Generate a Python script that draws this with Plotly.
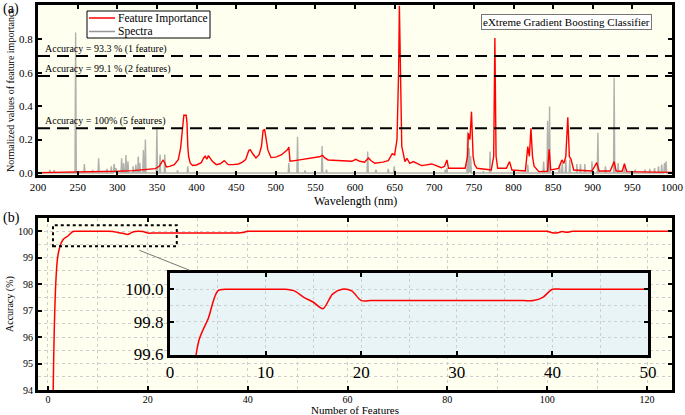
import plotly.graph_objects as go

FONT = "Liberation Serif, Times New Roman, serif"
W, H = 685, 415

# ---- panel (a): XGBoost feature importance (red curve) ----
fi_wavelength = [200, 220, 250, 280, 300, 320, 340, 348, 353, 356, 358, 360, 362, 366, 372, 377,
                 380, 382, 384, 387, 388, 389, 390, 392, 395, 400, 406, 409, 411, 413, 415, 417,
                 420, 425, 430, 435, 440, 446, 453, 458, 462, 466, 468, 471, 475, 479, 482, 484,
                 486, 488, 490, 494, 500, 507, 512, 515, 516.5, 518, 524, 540, 555, 559, 562, 566,
                 583, 596, 601, 606, 612, 617, 620, 625, 635, 642, 647, 650, 653, 655, 656, 657.5,
                 659, 663, 665.5, 669, 673.5, 684, 697, 709, 713, 716, 718, 739, 742, 743, 745,
                 747, 749, 751, 754, 772, 775, 776.5, 778, 780, 791, 795, 798, 815, 818, 820, 822,
                 824, 826, 832, 843, 845, 847, 857, 861, 863.5, 866, 868.5, 870.5, 872.5, 876,
                 899, 905, 908, 922, 927, 929.5, 937, 940, 943, 970, 1000]
fi_value = [0.002, 0.003, 0.005, 0.008, 0.010, 0.014, 0.020, 0.026, 0.040, 0.060, 0.078, 0.060,
            0.036, 0.040, 0.050, 0.080, 0.150, 0.250, 0.345, 0.345, 0.300, 0.160, 0.100, 0.060,
            0.045, 0.048, 0.062, 0.090, 0.100, 0.082, 0.104, 0.090, 0.070, 0.050, 0.055, 0.074,
            0.050, 0.050, 0.054, 0.065, 0.080, 0.135, 0.138, 0.115, 0.090, 0.110, 0.160, 0.255,
            0.260, 0.200, 0.138, 0.092, 0.095, 0.108, 0.130, 0.140, 0.155, 0.070, 0.074, 0.087,
            0.097, 0.105, 0.090, 0.078, 0.074, 0.070, 0.082, 0.070, 0.064, 0.090, 0.075, 0.058,
            0.065, 0.074, 0.115, 0.108, 0.200, 0.600, 1.000, 0.600, 0.160, 0.068, 0.088, 0.058,
            0.068, 0.044, 0.054, 0.032, 0.040, 0.078, 0.028, 0.028, 0.100, 0.238, 0.200, 0.367,
            0.100, 0.050, 0.028, 0.018, 0.100, 0.807, 0.100, 0.028, 0.028, 0.068, 0.018, 0.012,
            0.158, 0.100, 0.268, 0.098, 0.040, 0.008, 0.010, 0.142, 0.018, 0.028, 0.078, 0.058,
            0.098, 0.333, 0.098, 0.083, 0.018, 0.012, 0.062, 0.012, 0.012, 0.068, 0.012, 0.010,
            0.054, 0.008, 0.005, 0.004]

# ---- panel (a): emission spectrum lines (grey sticks) ----
spec_wavelength = [215, 220.5, 247.5, 258.5, 269, 276.5, 287, 292.5, 296, 298.5, 305.5, 308,
                   311, 313.5, 320, 323.5, 326.5, 328.5, 333, 335.5, 350, 354, 360, 376, 389,
                   516.5, 527.5, 537, 558.5, 564, 616, 626.5, 642, 649.5, 714, 716, 742, 744,
                   746, 762, 770.5, 818, 838, 843, 845.5, 858, 861.5, 866, 871, 880, 884.5,
                   890, 899, 906.5, 916, 927, 932, 940, 953.5, 966, 972, 978, 983, 987, 990.5,
                   992.5]
spec_height = [0.018, 0.018, 0.840, 0.054, 0.018, 0.088, 0.025, 0.040, 0.054, 0.030, 0.088, 0.060,
               0.108, 0.070, 0.040, 0.050, 0.098, 0.060, 0.138, 0.200, 0.275, 0.110, 0.110, 0.015,
               0.040, 0.060, 0.217, 0.015, 0.162, 0.020, 0.128, 0.020, 0.025, 0.040, 0.020, 0.030,
               0.247, 0.150, 0.100, 0.010, 0.128, 0.050, 0.068, 0.313, 0.397, 0.050, 0.060, 0.080,
               0.080, 0.054, 0.054, 0.054, 0.070, 0.240, 0.040, 0.570, 0.060, 0.060, 0.020, 0.020,
               0.025, 0.030, 0.040, 0.050, 0.060, 0.070]

# accuracy reached with the top-ranked features (dashed lines)
threshold_value = [0.70, 0.58, 0.268]
threshold_label = ["Accuracy = 93.3 % (1 feature)",
                   "Accuracy = 99.1 % (2 features)",
                   "Accuracy = 100% (5 features)"]

# ---- panel (b): accuracy vs number of features ----
n_features = list(range(1, 126))
accuracy = [
    93.30, 99.10, 99.68, 99.82, 99.99, 100.0, 100.0, 100.0, 100.0, 100.0,
    100.0, 100.0, 99.99, 99.95, 99.92, 99.88, 99.97, 100.0, 99.99, 99.93,
    99.93, 99.93, 99.93, 99.93, 99.93, 99.93, 99.93, 99.93, 99.93, 99.93,
    99.93, 99.93, 99.93, 99.93, 99.93, 99.93, 99.93, 99.93, 99.95, 100.0,
    100.0, 100.0, 100.0, 100.0, 100.0, 100.0, 100.0, 100.0, 100.0, 100.0,
    100.0, 100.0, 100.0, 100.0, 100.0, 100.0, 100.0, 100.0, 100.0, 100.0,
    100.0, 100.0, 100.0, 100.0, 100.0, 100.0, 100.0, 100.0, 100.0, 100.0,
    100.0, 100.0, 100.0, 100.0, 100.0, 100.0, 100.0, 100.0, 100.0, 100.0,
    100.0, 100.0, 100.0, 100.0, 100.0, 100.0, 100.0, 100.0, 100.0, 100.0,
    100.0, 100.0, 100.0, 100.0, 100.0, 100.0, 100.0, 100.0, 100.0, 100.0,
    99.94, 99.94, 99.99, 99.96, 100.0, 100.0, 100.0, 100.0, 100.0, 100.0,
    100.0, 100.0, 100.0, 100.0, 100.0, 100.0, 100.0, 100.0, 100.0, 100.0,
    100.0, 100.0, 100.0, 100.0, 100.0,
]

RED = "red"
GREY = "rgba(150,150,150,0.75)"


def px(x):
    return x / W


def py(y):
    return 1 - y / H


# stick spectrum: each line drawn as a narrow spike on a zero baseline
stick_x, stick_y = [200], [0]
for w, h in zip(spec_wavelength, spec_height):
    stick_x += [w - 0.8, w, w + 0.8]
    stick_y += [0, h, 0]
stick_x.append(1000)
stick_y.append(0)

fig = go.Figure()
fig.add_trace(go.Scatter(x=stick_x, y=stick_y, mode="lines", name="Spectra",
                         line=dict(color=GREY, width=1.4), xaxis="x", yaxis="y"))
fig.add_trace(go.Scatter(x=fi_wavelength, y=fi_value, mode="lines", name="Feature Importance",
                         line=dict(color=RED, width=1.4), xaxis="x", yaxis="y"))
fig.add_trace(go.Scatter(x=n_features, y=accuracy, mode="lines",
                         line=dict(color=RED, width=1.5, shape="spline", smoothing=0.8),
                         xaxis="x2", yaxis="y2"))
fig.add_trace(go.Scatter(x=n_features, y=accuracy, mode="lines",
                         line=dict(color=RED, width=1.5, shape="spline", smoothing=0.8),
                         xaxis="x3", yaxis="y3"))

frame = dict(showline=True, linecolor="black", linewidth=3, mirror="ticks",
             ticks="inside", ticklen=4, tickwidth=2, tickcolor="black",
             zeroline=False, showgrid=False, automargin=False,
             tickfont=dict(family=FONT, size=11, color="black"))
dotgrid = dict(showgrid=True, gridcolor="#cfcfcf", griddash="dot", gridwidth=1)

xdom = [px(38), px(672)]
fig.update_layout(
    xaxis=dict(frame, domain=xdom, anchor="y", range=[200, 1000], dtick=50),
    yaxis=dict(frame, domain=[py(175), py(5)], anchor="x", range=[-0.012, 1.005], dtick=0.2,
               tickformat=".1f"),
    xaxis2=dict(frame, **dotgrid, domain=xdom, anchor="y2", range=[-2, 125], dtick=20,
                tickfont=dict(family=FONT, size=10, color="black"), ticklabelstandoff=-2,
                minor=dict(dtick=10, showgrid=True, gridcolor="#cfcfcf", griddash="dot")),
    yaxis2=dict(frame, **dotgrid, domain=[py(390), py(218)], anchor="x2", range=[94, 100.5],
                dtick=1, tickfont=dict(family=FONT, size=10, color="black"),
                minor=dict(dtick=0.5, showgrid=True, gridcolor="#cfcfcf", griddash="dot")),
    xaxis3=dict(frame, **dotgrid, domain=[px(170), px(648)], anchor="y3", range=[0, 50],
                dtick=10, tickfont=dict(family=FONT, size=17, color="black"),
                minor=dict(dtick=5, showgrid=True, gridcolor="#cfcfcf", griddash="dot")),
    yaxis3=dict(frame, **dotgrid, domain=[py(355), py(273)], anchor="x3",
                range=[99.595, 100.1], tickvals=[99.6, 99.8, 100.0], tickformat=".1f",
                tickfont=dict(family=FONT, size=17, color="black"),
                minor=dict(dtick=0.1, showgrid=True, gridcolor="#cfcfcf", griddash="dot")),
    width=W, height=H,
    margin=dict(l=0, r=0, t=0, b=0),
    paper_bgcolor="white",
    plot_bgcolor="#E9F4F6",
    font=dict(family=FONT, color="black"),
    showlegend=False,
)

# ivory panel backgrounds (inset keeps the pale-blue plot background)
for xr, yr in [("x", "y"), ("x2", "y2")]:
    fig.add_shape(type="rect", xref=f"{xr} domain", yref=f"{yr} domain",
                  x0=0, x1=1, y0=0, y1=1, fillcolor="#FFFFF0", line_width=0, layer="below")

for val, label in zip(threshold_value, threshold_label):
    fig.add_shape(type="line", xref="x domain", yref="y", x0=0, x1=1, y0=val, y1=val,
                  line=dict(color="black", width=2, dash="12px,7px"))
    fig.add_annotation(text=label, xref="paper", yref="y", x=px(43), y=val, yshift=7,
                       xanchor="left", yanchor="middle", showarrow=False,
                       font=dict(family=FONT, size=10))

# legend box drawn by hand so it stays as compact as the original
fig.add_shape(type="rect", xref="paper", yref="paper", x0=px(87), x1=px(210),
              y0=py(38), y1=py(11), fillcolor="white", line=dict(color="black", width=1))
for name, color, yy in [("Feature Importance", RED, 18), ("Spectra", "rgb(150,150,150)", 31.5)]:
    fig.add_shape(type="line", xref="paper", yref="paper", x0=px(89), x1=px(115),
                  y0=py(yy), y1=py(yy), line=dict(color=color, width=1.5))
    fig.add_annotation(text=name, xref="paper", yref="paper", x=px(117), y=py(yy),
                       xanchor="left", yanchor="middle", showarrow=False,
                       font=dict(family=FONT, size=11.5), borderpad=0)

fig.add_annotation(text="eXtreme Gradient Boosting Classifier", xref="paper", yref="paper",
                   x=px(652), y=py(22), xanchor="right", yanchor="middle", showarrow=False,
                   bgcolor="white", bordercolor="#777777", borderwidth=1, borderpad=1,
                   font=dict(family=FONT, size=11))

# axis titles
titles = [("Wavelength (nm)", 355, 201, 0, 12),
          ("Number of Features", 355, 409.5, 0, 11),
          ("Normalized values of feature importance", 10, 90, -90, 10),
          ("Accuracy (%)", 10, 304, -90, 10)]
for text, tx, ty, ang, size in titles:
    fig.add_annotation(text=text, xref="paper", yref="paper", x=px(tx), y=py(ty),
                       xanchor="center", yanchor="middle", textangle=ang, showarrow=False,
                       font=dict(family=FONT, size=size), borderpad=0)

# zoom window on panel (b) and leader line to the inset
fig.add_shape(type="rect", xref="x2", yref="y2", x0=1, x1=25.8, y0=99.43, y1=100.23,
              line=dict(color="black", width=2, dash="dot"))
fig.add_shape(type="line", xref="x2", yref="y2", x0=18.3, y0=99.28, x1=28.3, y1=98.53,
              line=dict(color="#777777", width=1))

for tag, ytop in [("(a)", 9), ("(b)", 218)]:
    fig.add_annotation(text=tag, xref="paper", yref="paper", x=px(1), y=py(ytop),
                       xanchor="left", yanchor="middle", showarrow=False,
                       font=dict(family=FONT, size=14))

# the page's default body margin would shift the 685x415 figure off the window
fig.write_html("out.html", config={"displayModeBar": False},
               post_script="document.body.style.margin='0px';")
